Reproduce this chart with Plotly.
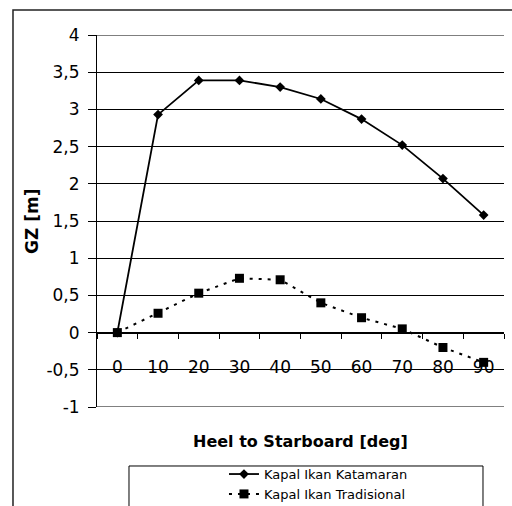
import plotly.graph_objects as go

heel = ["0", "10", "20", "30", "40", "50", "60", "70", "80", "90"]
katamaran = [0.0, 2.93, 3.39, 3.39, 3.30, 3.14, 2.87, 2.52, 2.07, 1.58]
tradisional = [0.0, 0.26, 0.53, 0.73, 0.71, 0.40, 0.20, 0.05, -0.20, -0.40]
y_tickvals = [-1, -0.5, 0, 0.5, 1, 1.5, 2, 2.5, 3, 3.5, 4]
y_ticktext = ["-1", "-0,5", "0", "0,5", "1", "1,5", "2", "2,5", "3", "3,5", "4"]
y_min, y_max = -1, 4

FONT = "DejaVu Sans"

fig = go.Figure()
fig.add_trace(go.Scatter(
    x=heel, y=katamaran, mode="lines+markers", name="Kapal Ikan Katamaran",
    line=dict(color="black", width=1.8),
    marker=dict(symbol="diamond", size=7.5, color="black"),
))
fig.add_trace(go.Scatter(
    x=heel, y=tradisional, mode="lines+markers", name="Kapal Ikan Tradisional",
    line=dict(color="black", width=2, dash="3px,6px"),
    marker=dict(symbol="square", size=9, color="black"),
))

fig.update_layout(
    width=512, height=506,
    margin=dict(l=97, r=8, t=35, b=99, autoexpand=False),
    paper_bgcolor="white", plot_bgcolor="white",
    font=dict(family=FONT, color="black", size=17),
    showlegend=True,
    legend=dict(
        x=0.312, xanchor="left", y=-0.140, yanchor="top",
        font=dict(family=FONT, size=13, color="black"),
        bgcolor="rgba(0,0,0,0)", borderwidth=0, tracegroupgap=0,
    ),
    xaxis=dict(
        type="category", range=[-0.5, 9.5], anchor="free", position=0.2,
        showline=True, linecolor="black", linewidth=1,
        ticks="outside", ticklen=5, tickcolor="black", tickwidth=1,
        tickson="boundaries", showgrid=False, zeroline=False,
        ticklabelstandoff=19,
        tickfont=dict(family=FONT, size=17, color="black"),
    ),
    yaxis=dict(
        range=[y_min, y_max], tickmode="array", tickvals=y_tickvals, ticktext=y_ticktext,
        showline=True, linecolor="black", linewidth=1,
        ticks="outside", ticklen=8, tickcolor="black", tickwidth=1,
        showgrid=True, gridcolor="black", gridwidth=1, zeroline=False,
        ticklabelstandoff=5,
        tickfont=dict(family=FONT, size=17, color="black"),
    ),
    annotations=[
        dict(text="<b>GZ [m]</b>", xref="paper", yref="paper", x=-0.16, y=0.5,
             textangle=-90, showarrow=False, xanchor="center", yanchor="middle",
             font=dict(family=FONT, size=17, color="black")),
        dict(text="<b>Heel to Starboard [deg]</b>", xref="paper", yref="paper",
             x=0.499, y=-0.094, showarrow=False, xanchor="center", yanchor="middle",
             font=dict(family=FONT, size=16, color="black")),
    ],
    shapes=[
        dict(type="rect", xref="paper", yref="paper", x0=-0.2064, x1=1.1,
             y0=-0.5, y1=1.0672, line=dict(color="#222", width=1.5),
             fillcolor="rgba(0,0,0,0)", layer="below"),
        dict(type="rect", xref="paper", yref="paper", x0=0.0786, x1=0.9484,
             y0=-0.5, y1=-0.1586, line=dict(color="black", width=1),
             fillcolor="rgba(0,0,0,0)"),
        # gridlines at the range edges (plotly hides them)
        dict(type="line", xref="paper", yref="y", x0=0, x1=1, y0=y_max, y1=y_max,
             line=dict(color="black", width=1), layer="below"),
        dict(type="line", xref="paper", yref="y", x0=0, x1=1, y0=y_min, y1=y_min,
             line=dict(color="black", width=1), layer="below"),
    ],
)

fig.write_html("out.html")
